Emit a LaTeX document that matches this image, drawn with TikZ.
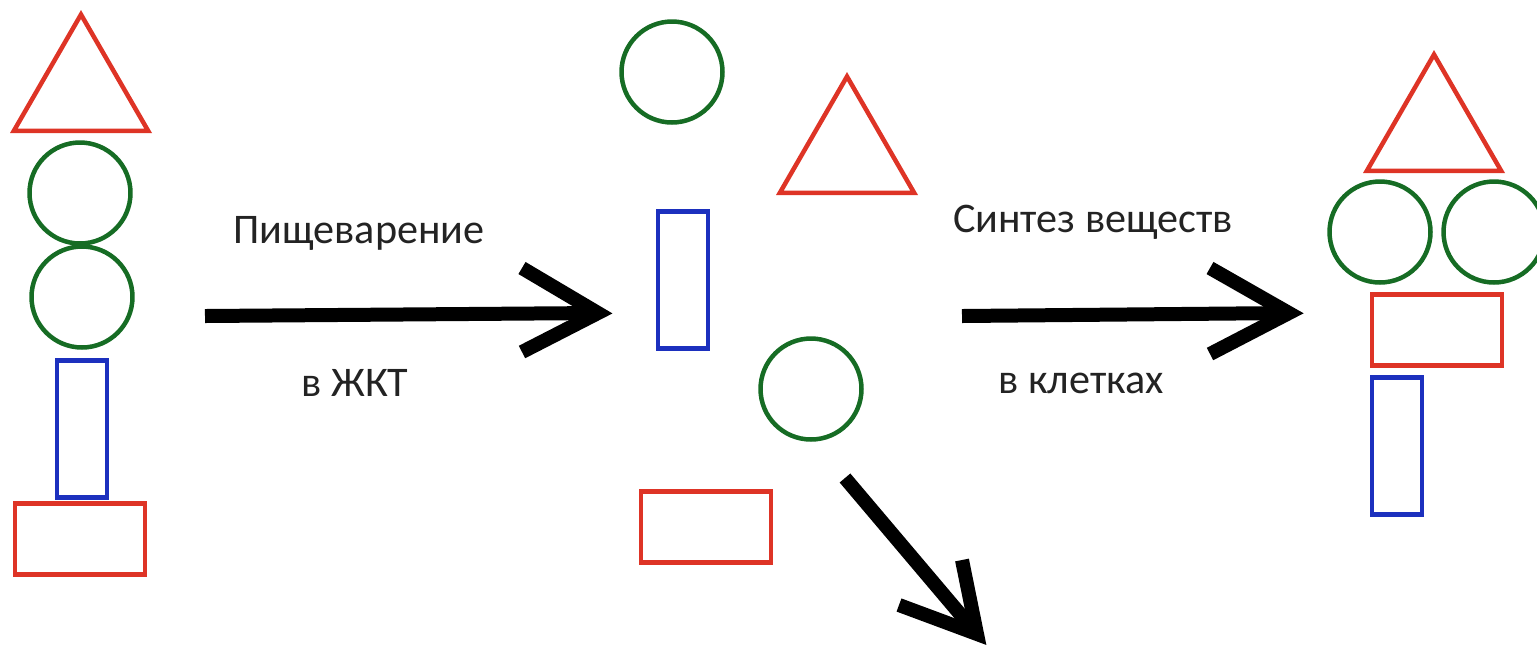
\documentclass[tikz,border=0pt]{standalone}
\usepackage{fontspec}
\setmainfont{Carlito}
\usetikzlibrary{shapes.geometric}
\definecolor{shred}{RGB}{222,52,38}
\definecolor{shgreen}{RGB}{22,108,36}
\definecolor{shblue}{RGB}{28,48,190}
\definecolor{txt}{RGB}{35,35,35}
\begin{document}
\begin{tikzpicture}[x=0.02cm,y=-0.02cm,
  shape line/.style={line width=0.09cm, inner sep=0pt, outer sep=0pt},
  tri/.style={shape line, draw=shred, regular polygon, regular polygon sides=3, minimum size=3.1cm},
  ball/.style={shape line, draw=shgreen, circle, minimum size=2.02cm},
  bar/.style={shape line, draw=shblue, rectangle, minimum width=1.0cm, minimum height=2.74cm},
  slab/.style={shape line, draw=shred, rectangle, minimum width=2.6cm, minimum height=1.42cm},
  bigarrow/.style={line width=0.28cm, black, line join=miter, miter limit=10},
  lbl/.style={font=\fontsize{24}{28}\selectfont, text=txt, inner sep=0pt}]
\useasboundingbox (0,0) rectangle (1537,654);

% left column: intact molecule
\node[tri]  (lt) at (81,92) {};
\node[ball] (lc1) at (80,193) {};
\node[ball] (lc2) at (82,297) {};
\node[bar]  (lb) at (82,429) {};
\node[slab] (lr) at (80,539) {};

% middle: separate pieces
\node[ball] (mc1) at (672,72) {};
\node[tri]  (mt) at (847,154) {};
\node[bar]  (mb) at (683,280) {};
\node[ball] (mc2) at (811,389) {};
\node[slab] (mr) at (706,527) {};

% right column: new molecule
\node[tri]  (rt) at (1434,132) {};
\node[ball] (rc1) at (1380,232) {};
\node[ball] (rc2) at (1494,232) {};
\node[slab] (rr) at (1437,330) {};
\node[bar]  (rb) at (1397,446) {};

% arrow ends
\coordinate (a1s) at (205,316);
\coordinate (a1e) at (598,313);
\coordinate (a1u) at (522,268);
\coordinate (a1d) at (522,352);
\coordinate (a2s) at (962,316);
\coordinate (a2e) at (1289,313);
\coordinate (a2u) at (1210,268);
\coordinate (a2d) at (1210,354);
\coordinate (a3s) at (845,478);
\coordinate (a3e) at (977,634);
\coordinate (a3l) at (899,605);
\coordinate (a3r) at (962,560);

% arrows
\draw[bigarrow] (a1s) -- (a1e);
\draw[bigarrow] (a1u) -- (a1e) -- (a1d);
\draw[bigarrow] (a2s) -- (a2e);
\draw[bigarrow] (a2u) -- (a2e) -- (a2d);
\draw[bigarrow] (a3s) -- (a3e);
\draw[bigarrow] (a3l) -- (a3e) -- (a3r);

% labels
\node[lbl] (t1) at (359,233) {Пищеварение};
\node[lbl] (t2) at (355,383) {в ЖКТ};
\node[lbl] (t3) at (1093,222) {Синтез веществ};
\node[lbl] (t4) at (1081,383) {в клетках};
\end{tikzpicture}
\end{document}
